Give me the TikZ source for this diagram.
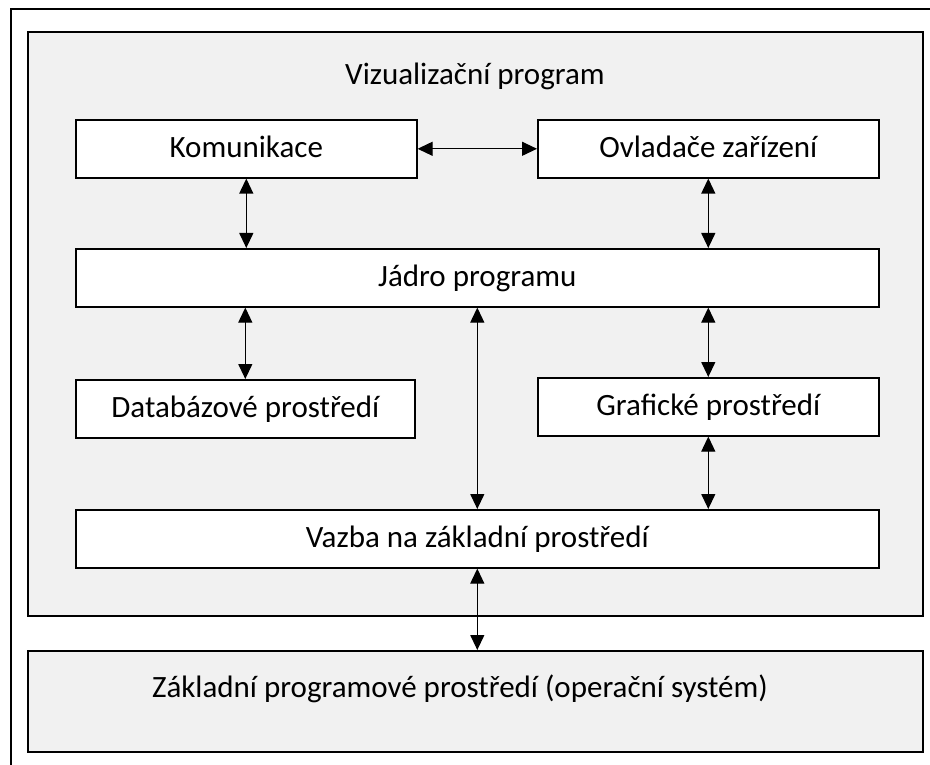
\documentclass[tikz,border=0pt]{standalone}
\usepackage{fontspec}
\setmainfont{Carlito}
\usetikzlibrary{arrows.meta}
\definecolor{panelgray}{HTML}{F1F1F1}
\begin{document}
\begin{tikzpicture}[x=1pt, y=-1pt,
  every node/.style={font=\fontsize{31}{37}\selectfont, text height=21pt, text depth=4pt},
  frame/.style={line width=2pt},
  panelbox/.style={draw, line width=1.6pt, fill=panelgray, inner sep=0pt, anchor=north west},
  modbox/.style={draw, line width=1.6pt, fill=white, inner sep=0pt, anchor=north west, minimum height=58pt},
  biarrow/.style={{Triangle[length=15pt,width=14pt]}-{Triangle[length=15pt,width=14pt]}, line width=1.2pt},
  caption/.style={inner sep=0pt}]
  \useasboundingbox (0,0) rectangle (930,765);

  % outer table frame (left and top edges)
  \coordinate (frameBL) at (11,775);
  \coordinate (frameTL) at (11,9);
  \coordinate (frameTR) at (940,9);
  \draw[frame] (frameBL) -- (frameTL) -- (frameTR);

  % visualisation program panel
  \node[panelbox, minimum width=895pt, minimum height=584pt] (panel) at (27,31) {};
  \node[caption] (title) at (475,76) {Vizualizační program};

  % modules
  \node[modbox, minimum width=341pt] (kom) at (75,119) {Komunikace};
  \node[modbox, minimum width=341pt] (ovl) at (537,119) {Ovladače zařízení};
  \node[modbox, minimum width=803pt] (jadro) at (75,248) {Jádro programu};
  \node[modbox, minimum width=339pt] (db) at (75,379) {Databázové prostředí};
  \node[modbox, minimum width=341pt] (graf) at (537,377) {Grafické prostředí};
  \node[modbox, minimum width=803pt] (vazba) at (75,509) {Vazba na základní prostředí};

  % operating system
  \node[panelbox, minimum width=895pt, minimum height=101pt] (os) at (27,650) {};
  \node[caption] (ostext) at (460,689) {Základní programové prostředí (operační systém)};

  % connections
  \draw[biarrow] (kom.east) -- (ovl.west);
  \draw[biarrow] (kom.south) -- (kom.south |- jadro.north);
  \draw[biarrow] (ovl.south) -- (ovl.south |- jadro.north);
  \draw[biarrow] (jadro.south -| db.north) -- (db.north);
  \draw[biarrow] (jadro.south -| graf.north) -- (graf.north);
  \draw[biarrow] (jadro.south) -- (jadro.south |- vazba.north);
  \draw[biarrow] (graf.south) -- (graf.south |- vazba.north);
  \draw[biarrow] (vazba.south) -- (vazba.south |- os.north);
\end{tikzpicture}
\end{document}
